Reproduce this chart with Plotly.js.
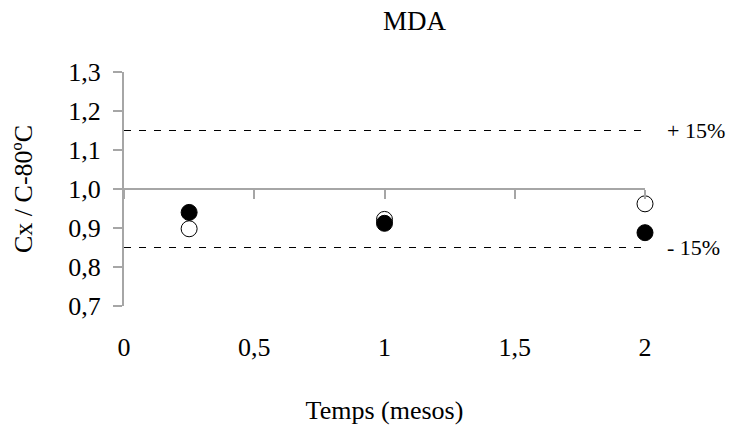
<!DOCTYPE html>
<html>
<head>
<meta charset="utf-8">
<script src="https://cdn.plot.ly/plotly-3.0.1.min.js"></script>
<style>html,body{margin:0;padding:0;background:#fff;}#chart{width:731px;height:432px;}</style>
</head>
<body>
<div id="chart"></div>
<script>
const chartTitle = "MDA";
const xTitle = "Temps (mesos)";
const yTitle = "Cx / C-80ºC";
const timeFilled = [0.25, 1, 2];
const valuesFilled = [0.94, 0.912, 0.888];
const timeOpen = [0.25, 1, 2];
const valuesOpen = [0.898, 0.922, 0.962];
const refValue = 1.0;
const upperLimit = 1.15;
const lowerLimit = 0.85;
const upperLabel = "+ 15%";
const lowerLabel = "- 15%";
const xRange = [0, 2];
const yRange = [0.7, 1.3];

const font = "'Liberation Serif', 'Times New Roman', serif";
const gray = "#a6a6a6";

const traces = [
  {x: xRange, y: [upperLimit, upperLimit], mode: "lines", line: {color: "#000", width: 1, dash: "7px,8px"}, hoverinfo: "skip", showlegend: false},
  {x: xRange, y: [lowerLimit, lowerLimit], mode: "lines", line: {color: "#000", width: 1, dash: "7px,8px"}, hoverinfo: "skip", showlegend: false},
  {x: timeOpen, y: valuesOpen, mode: "markers", cliponaxis: false, marker: {size: 16, color: "#fff", line: {color: "#000", width: 1}}, showlegend: false},
  {x: timeFilled, y: valuesFilled, mode: "markers", cliponaxis: false, marker: {size: 16, color: "#000", line: {color: "#000", width: 1}}, showlegend: false},
  {x: xRange, y: [refValue, refValue], xaxis: "x2", mode: "lines", line: {color: "rgba(0,0,0,0)", width: 0}, hoverinfo: "skip", showlegend: false}
];

const layout = {
  width: 731, height: 432,
  margin: {l: 124, r: 86, t: 72, b: 126},
  paper_bgcolor: "#fff", plot_bgcolor: "#fff",
  separators: ",.",
  font: {family: font, size: 26, color: "#000"},
  title: {text: chartTitle, font: {family: font, size: 27, color: "#000"}, x: 0.567, xanchor: "center", y: 0.952, yanchor: "middle"},
  xaxis: {
    range: xRange, dtick: 0.5, tick0: 0, showgrid: false, zeroline: false, showline: false,
    ticks: "", ticklabelstandoff: 23,
    title: {text: xTitle, font: {family: font, size: 26}, standoff: 39},
    fixedrange: true
  },
  xaxis2: {
    range: xRange, dtick: 0.5, tick0: 0, overlaying: "x", anchor: "free", position: (refValue - yRange[0]) / (yRange[1] - yRange[0]),
    showgrid: false, zeroline: false, showline: true, linecolor: gray, linewidth: 2,
    ticks: "outside", ticklen: 9, tickcolor: gray, tickwidth: 2, showticklabels: false, side: "bottom"
  },
  yaxis: {
    range: yRange, dtick: 0.1, tick0: 0.7, tickformat: ".1f", showgrid: false, zeroline: false,
    showline: true, linecolor: gray, linewidth: 2, ticks: "outside", ticklen: 9, tickcolor: gray, tickwidth: 2,
    ticklabelstandoff: 7,
    title: {text: yTitle, font: {family: font, size: 26}, standoff: 28},
    fixedrange: true
  },
  annotations: [
    {x: 1, xref: "paper", xanchor: "left", xshift: 20, y: upperLimit, yref: "y", text: upperLabel, showarrow: false, font: {family: font, size: 22}},
    {x: 1, xref: "paper", xanchor: "left", xshift: 20, y: lowerLimit, yref: "y", text: lowerLabel, showarrow: false, font: {family: font, size: 22}}
  ]
};

Plotly.newPlot("chart", traces, layout, {displayModeBar: false, staticPlot: true});
</script>
</body>
</html>
